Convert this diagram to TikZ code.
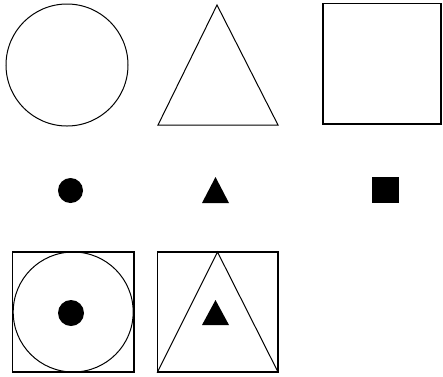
\documentclass[tikz,border=0pt]{standalone}
\begin{document}
\begin{tikzpicture}[x=1pt,y=-1pt,
  outline/.style={draw=black,line width=1pt},
  boxline/.style={draw=black,line width=1.2pt},
  solid fill/.style={fill=black}]
\useasboundingbox (0,0) rectangle (443,376);
% top row
\draw[outline] (67,65) circle[radius=61];
\draw[outline,line join=miter] (217,5) -- (278,125) -- (158,125) -- cycle;
\draw[boxline] (323,3.5) rectangle (441,124);
% middle row
\fill[solid fill] (70.5,190.5) circle[radius=12.5];
\fill[solid fill] (215.5,177) -- (229,203) -- (202,203) -- cycle;
\fill[solid fill] (372,177) rectangle (399,203);
% bottom row
\draw[boxline] (12.5,252) rectangle (134,372);
\draw[outline] (73.2,312) circle[radius=60];
\fill[solid fill] (71,313) circle[radius=13];
\draw[boxline] (157.5,252) rectangle (278,372);
\draw[outline] (217.5,252) -- (278,372) -- (157.5,372) -- cycle;
\fill[solid fill] (215.5,300) -- (229,325) -- (202,325) -- cycle;
\end{tikzpicture}
\end{document}
